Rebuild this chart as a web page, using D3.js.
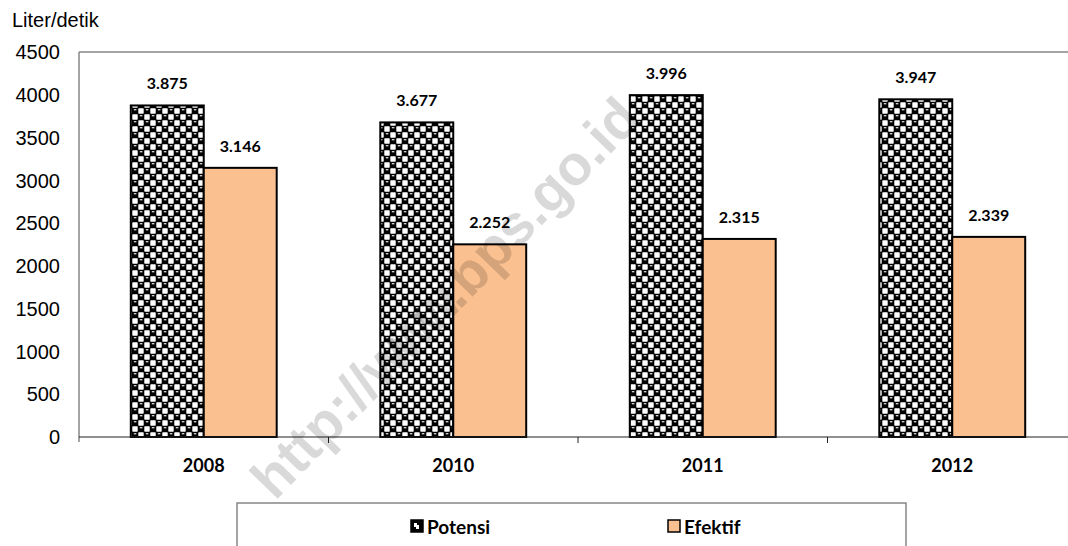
<!DOCTYPE html>
<html>
<head>
<meta charset="utf-8">
<script src="https://cdn.jsdelivr.net/npm/d3@7"></script>
<style>
  body { margin: 0; background: #fff; }
  svg { display: block; }
</style>
</head>
<body>
<div id="chart"></div>
<script>
const years = ["2008", "2010", "2011", "2012"];
const seriesNames = ["Potensi", "Efektif"];
const potensi = [3875, 3677, 3996, 3947];
const efektif = [3146, 2252, 2315, 2339];
const yTicks = [0, 500, 1000, 1500, 2000, 2500, 3000, 3500, 4000, 4500];
const valueLabels = {
  Potensi: ["3.875", "3.677", "3.996", "3.947"],
  Efektif: ["3.146", "2.252", "2.315", "2.339"]
};

const width = 1068, height = 546;
const margin = { top: 52, left: 79, bottom: 109 };
const plotRight = 1077;

const svg = d3.select("#chart")
  .append("svg")
  .attr("width", width)
  .attr("height", height);

// checker "sphere" fill used by Excel for the Potensi series
const defs = svg.append("defs");
const pat = defs.append("pattern")
  .attr("id", "sphere")
  .attr("patternUnits", "userSpaceOnUse")
  .attr("width", 12)
  .attr("height", 12);
pat.append("rect").attr("width", 12).attr("height", 12).attr("fill", "#000");
[[6, 0], [0, 6]].forEach(([cx, cy]) => {
  pat.append("rect")
    .attr("x", cx + 0.3).attr("y", cy + 0.3)
    .attr("width", 5.4).attr("height", 5.4)
    .attr("rx", 0.6)
    .attr("fill", "#fff");
});
[[0, 0], [6, 6]].forEach(([cx, cy]) => {
  pat.append("rect")
    .attr("x", cx + 1.8).attr("y", cy + 1.2)
    .attr("width", 2.6).attr("height", 1.1)
    .attr("fill", "#fff");
});

const x = d3.scaleBand()
  .domain(years)
  .range([margin.left, plotRight])
  .padding(0);

const x1 = d3.scaleBand()
  .domain(seriesNames)
  .range([0, x.bandwidth()])
  .paddingInner(0)
  .paddingOuter(0.71);

const y = d3.scaleLinear()
  .domain([0, 4500])
  .range([height - margin.bottom, margin.top]);

const fills = { Potensi: "url(#sphere)", Efektif: "#FAC090" };
const values = { Potensi: potensi, Efektif: efektif };

// frame: top border + left axis line
svg.append("line")
  .attr("x1", margin.left).attr("x2", plotRight)
  .attr("y1", y(4500)).attr("y2", y(4500))
  .attr("stroke", "#868686").attr("stroke-width", 1.5);
svg.append("line")
  .attr("x1", margin.left).attr("x2", margin.left)
  .attr("y1", y(4500)).attr("y2", y(0) + 5)
  .attr("stroke", "#868686").attr("stroke-width", 1.5);

// y tick labels
svg.append("g")
  .selectAll("text")
  .data(yTicks)
  .enter()
  .append("text")
  .attr("x", 60)
  .attr("y", (d) => y(d))
  .attr("dy", "0.36em")
  .attr("text-anchor", "end")
  .style("font-family", "'Liberation Sans', Arial, sans-serif")
  .style("font-size", "20px")
  .text((d) => d);

svg.append("text")
  .attr("x", 12)
  .attr("y", 27)
  .style("font-family", "'Liberation Sans', Arial, sans-serif")
  .style("font-size", "20px")
  .text("Liter/detik");

// bars
const groups = svg.append("g")
  .selectAll("g")
  .data(seriesNames)
  .enter()
  .append("g");

const rows = (s) => years.map((yr, i) => ({ s, yr, v: values[s][i], label: valueLabels[s][i] }));

groups.selectAll("rect")
  .data(rows)
  .enter()
  .append("rect")
  .attr("x", (d) => x(d.yr) + x1(d.s))
  .attr("y", (d) => y(d.v))
  .attr("width", x1.bandwidth())
  .attr("height", (d) => y(0) - y(d.v))
  .attr("fill", (d) => fills[d.s])
  .attr("stroke", "#000")
  .attr("stroke-width", 2);

groups.selectAll("text")
  .data(rows)
  .enter()
  .append("text")
  .attr("x", (d) => x(d.yr) + x1(d.s) + x1.bandwidth() / 2)
  .attr("y", (d) => y(d.v) - 16)
  .attr("text-anchor", "middle")
  .style("font-family", "Lato, sans-serif")
  .style("font-weight", "bold")
  .style("font-size", "16px")
  .text((d) => d.label);

// x axis
const xAxis = svg.append("g")
  .attr("transform", `translate(0,${y(0)})`);
xAxis.append("line")
  .attr("x1", margin.left).attr("x2", plotRight)
  .attr("stroke", "#222").attr("stroke-width", 1.2);
xAxis.selectAll(".tick")
  .data(years.slice(1))
  .enter()
  .append("line")
  .attr("x1", (d) => x(d)).attr("x2", (d) => x(d))
  .attr("y1", 0).attr("y2", 6)
  .attr("stroke", "#222").attr("stroke-width", 1);
xAxis.selectAll(".cat")
  .data(years)
  .enter()
  .append("text")
  .attr("x", (d) => x(d) + x.bandwidth() / 2)
  .attr("y", 35)
  .attr("text-anchor", "middle")
  .style("font-family", "Lato, sans-serif")
  .style("font-weight", "bold")
  .style("font-size", "18px")
  .text((d) => d);

// watermark
const wm = svg.append("text")
  .attr("transform", "translate(459,311) rotate(-46)")
  .attr("text-anchor", "middle")
  .style("font-family", "'Liberation Sans', Arial, sans-serif")
  .style("font-weight", "bold")
  .style("font-size", "56px")
  .style("fill", "#000")
  .style("fill-opacity", 0.15);
wm.append("tspan").text("http://");
wm.append("tspan").style("letter-spacing", "-7px").text("www");
wm.append("tspan").text(".bps.go.id");

// legend
const legend = svg.append("g");
legend.append("rect")
  .attr("x", 237).attr("y", 503)
  .attr("width", 669).attr("height", 60)
  .attr("fill", "#fff")
  .attr("stroke", "#868686").attr("stroke-width", 1.5);

const legendX = { Potensi: 411, Efektif: 668 };
const items = legend.selectAll(".item")
  .data(seriesNames)
  .enter()
  .append("g")
  .attr("transform", (d) => `translate(${legendX[d]},520)`);
items.append("rect")
  .attr("width", 12).attr("height", 12)
  .attr("fill", (d) => d === "Potensi" ? "#000" : fills[d])
  .attr("stroke", "#000").attr("stroke-width", 1.5);
items.filter((d) => d === "Potensi")
  .append("path")
  .attr("d", "M3,3h3v2h2v4h-3v-2h-2z")
  .attr("fill", "#fff");
items.append("text")
  .attr("x", 16)
  .attr("y", 7)
  .attr("dy", "0.36em")
  .style("font-family", "Lato, sans-serif")
  .style("font-weight", "bold")
  .style("font-size", "19px")
  .text((d) => d);
</script>
</body>
</html>
